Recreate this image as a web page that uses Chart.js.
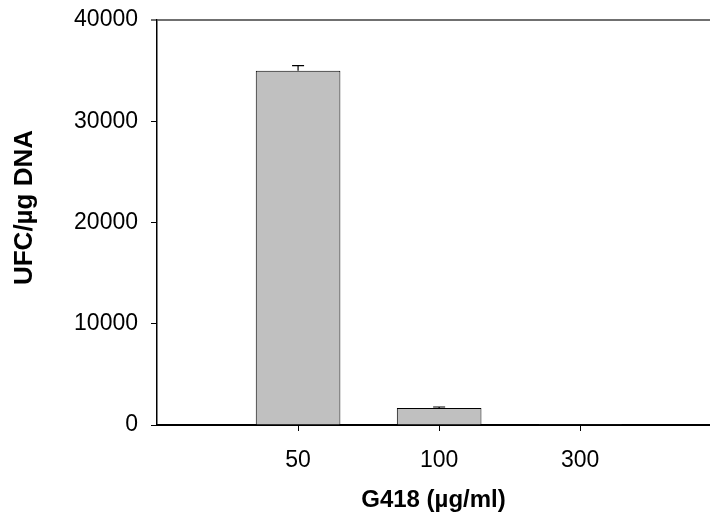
<!DOCTYPE html>
<html>
<head>
<meta charset="utf-8">
<script src="https://cdn.jsdelivr.net/npm/chart.js@4/dist/chart.umd.min.js"></script>
<style>
  html, body { margin: 0; padding: 0; background: #fff; overflow: hidden; }
</style>
</head>
<body>
<canvas id="chart" width="710" height="520"></canvas>
<script>
// data
const doses = ['50', '100', '300'];
const doseSlots = [1, 2, 3];
const cfu = [35000, 1680, 20];
const cfuErr = [500, 100, 0];
const yTicks = [0, 10000, 20000, 30000, 40000];
const yTitle = 'UFC/µg DNA';
const xTitle = 'G418 (µg/ml)';

const fontFamily = 'Arial, "Liberation Sans", sans-serif';

// simple error bar plugin (upper whisker + cap only)
const errorBars = {
    id: 'errorBars',
    afterDatasetsDraw(chart) {
        const ctx = chart.ctx;
        const x = chart.scales.x;
        const y = chart.scales.y;
        ctx.save();
        ctx.strokeStyle = '#000';
        ctx.lineWidth = 1.2;
        doseSlots.forEach((slot, i) => {
            if (!cfuErr[i]) return;
            const px = x.getPixelForValue(slot);
            const top = y.getPixelForValue(cfu[i]);
            const hi = y.getPixelForValue(cfu[i] + cfuErr[i]);
            ctx.beginPath();
            ctx.moveTo(px, top);
            ctx.lineTo(px, hi);
            ctx.moveTo(px - 6, hi);
            ctx.lineTo(px + 6, hi);
            ctx.stroke();
        });
        ctx.restore();
    }
};

// y title sits a bit above the axis middle in the original
const yAxisTitle = {
    id: 'yAxisTitle',
    afterDraw(chart) {
        const ctx = chart.ctx;
        const y = chart.scales.y;
        ctx.save();
        ctx.translate(25, (y.top + y.bottom) / 2 - 15);
        ctx.rotate(-Math.PI / 2);
        ctx.font = 'bold 26px ' + fontFamily;
        ctx.fillStyle = '#000';
        ctx.textAlign = 'center';
        ctx.textBaseline = 'middle';
        ctx.fillText(yTitle, 0, 0);
        ctx.restore();
    }
};

const ctx = document.getElementById('chart').getContext('2d');
new Chart(ctx, {
    type: 'bar',
    data: {
        datasets: [{
            data: doseSlots.map((s, i) => ({ x: s, y: cfu[i] })),
            backgroundColor: '#c0c0c0',
            borderColor: '#000',
            borderWidth: 1,
            barPercentage: 0.6,
            categoryPercentage: 1
        }]
    },
    options: {
        responsive: false,
        animation: false,
        layout: { padding: { top: 20, right: 0, left: 0, bottom: 0 } },
        plugins: {
            legend: { display: false },
            tooltip: { enabled: false }
        },
        scales: {
            x: {
                type: 'linear',
                min: 0,
                max: 3.92,
                offset: false,
                afterBuildTicks: (scale) => {
                    scale.ticks = doseSlots.map(v => ({ value: v }));
                },
                afterFit: (scale) => {
                    scale.height = 95;
                    scale.paddingLeft = 0;
                    scale.paddingRight = 0;
                },
                ticks: {
                    color: '#000',
                    font: { family: fontFamily, size: 23 },
                    padding: 16,
                    callback: (v) => doses[doseSlots.indexOf(v)]
                },
                grid: {
                    offset: false,
                    drawOnChartArea: false,
                    color: '#000',
                    tickLength: 6
                },
                border: { color: '#000', width: 2 },
                title: {
                    display: true,
                    text: xTitle,
                    color: '#000',
                    font: { family: fontFamily, size: 24, weight: 'bold' },
                    padding: { top: 0, bottom: 5 }
                }
            },
            y: {
                min: 0,
                max: 40000,
                afterBuildTicks: (scale) => {
                    scale.ticks = yTicks.map(v => ({ value: v }));
                },
                afterFit: (scale) => {
                    scale.width = 157;
                    scale.paddingTop = 0;
                    scale.paddingBottom = 0;
                },
                ticks: {
                    color: '#000',
                    font: { family: fontFamily, size: 23 },
                    padding: 13,
                    callback: (v) => String(v)
                },
                grid: {
                    drawOnChartArea: true,
                    color: (c) => c.tick && c.tick.value === 40000 ? '#707070' : 'rgba(0,0,0,0)',
                    tickColor: (c) => c.tick && c.tick.value === 40000 ? '#707070' : '#000',
                    lineWidth: (c) => c.tick && c.tick.value === 40000 ? 2 : 1,
                    tickLength: 6
                },
                border: { color: '#000', width: 1.5 }
            }
        }
    },
    plugins: [errorBars, yAxisTitle]
});
</script>
</body>
</html>
